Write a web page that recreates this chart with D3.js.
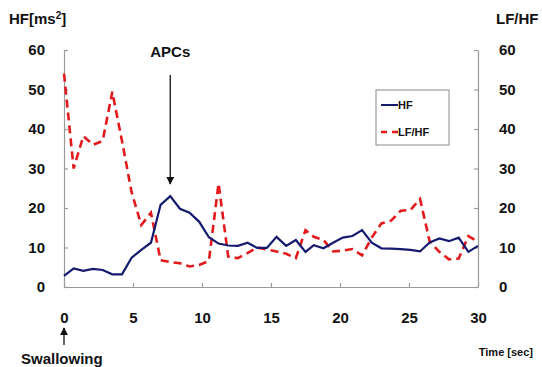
<!DOCTYPE html>
<html>
<head>
<meta charset="utf-8">
<script src="https://cdn.jsdelivr.net/npm/d3@7"></script>
<style>
  body { margin: 0; background: #fff; }
  svg text { font-family: "Liberation Sans", Arial, sans-serif; font-weight: bold; fill: #111; }
</style>
</head>
<body>
<div id="chart"></div>
<script>
// time points (sec)
const times = [0, 0.7, 1.4, 2.1, 2.8, 3.5, 4.2, 4.9, 5.6, 6.3, 7.0, 7.7, 8.4, 9.1, 9.8, 10.5,
  11.2, 11.9, 12.6, 13.3, 14.0, 14.7, 15.4, 16.1, 16.8, 17.5, 18.1, 18.8, 19.5, 20.2, 20.9,
  21.6, 22.3, 23.0, 23.7, 24.4, 25.1, 25.8, 26.5, 27.2, 27.9, 28.6, 29.3, 30.0];
const hfValues = [2.8, 4.7, 4.1, 4.6, 4.3, 3.2, 3.2, 7.4, 9.4, 11.2, 20.8, 23.0, 19.8, 18.8, 16.5, 12.6,
  11.0, 10.5, 10.4, 11.2, 9.9, 9.9, 12.7, 10.4, 11.9, 8.9, 10.6, 9.8, 11.2, 12.5, 12.9,
  14.4, 11.2, 9.8, 9.7, 9.6, 9.4, 9.0, 11.3, 12.3, 11.6, 12.5, 8.9, 10.4];
const lfhfValues = [54, 30, 38.2, 36, 37, 49.4, 37, 24, 15.7, 18.8, 6.8, 6.3, 6.0, 5.2, 5.6, 6.6,
  26.2, 7.7, 7.3, 8.6, 10.0, 9.5, 9.0, 8.4, 7.3, 14.4, 12.7, 11.9, 9.0, 9.2, 9.6,
  8.0, 12.5, 16.1, 16.8, 19.3, 19.5, 22.3, 11.5, 8.9, 7.0, 7.2, 12.9, 11.5];
const xTicks = [0, 5, 10, 15, 20, 25, 30];
const yTicks = [0, 10, 20, 30, 40, 50, 60];
const seriesNames = ['HF', 'LF/HF'];
const apcsTime = 7.7;

const W = 542, H = 367;
const plotL = 64, plotR = 478, plotT = 50, plotB = 287;

const svg = d3.select('#chart').append('svg').attr('width', W).attr('height', H);

const x = d3.scaleLinear().domain([0, 30]).range([plotL, plotR]);
const yL = d3.scaleLinear().domain([0, 60]).range([plotB, plotT]);
const yR = d3.scaleLinear().domain([0, 60]).range([plotB, plotT]);

function styleAxis(g) {
  g.select('.domain').attr('stroke', '#9a9a9a').attr('stroke-width', 1.2);
  g.selectAll('.tick line').attr('stroke', '#9a9a9a').attr('stroke-width', 1.2);
  g.selectAll('.tick text').style('font-size', '15px').attr('fill', '#111');
}

svg.append('g')
  .attr('transform', `translate(0,${plotB})`)
  .call(d3.axisBottom(x).tickValues(xTicks).tickSizeInner(-4).tickSizeOuter(0).tickPadding(25))
  .call(styleAxis);

svg.append('g')
  .attr('transform', `translate(${plotL},0)`)
  .call(d3.axisLeft(yL).tickValues(yTicks).tickSizeInner(-4).tickSizeOuter(0).tickPadding(19))
  .call(styleAxis);

svg.append('g')
  .attr('transform', `translate(${plotR},0)`)
  .call(d3.axisRight(yR).tickValues(yTicks).tickSizeInner(-4).tickSizeOuter(0).tickPadding(21))
  .call(styleAxis);

// lines
const hfLine = d3.line().x((d, i) => x(times[i])).y(d => yL(d));
const lfLine = d3.line().x((d, i) => x(times[i])).y(d => yR(d));

svg.append('path')
  .datum(lfhfValues)
  .attr('d', lfLine)
  .attr('fill', 'none')
  .attr('stroke', '#e3191c')
  .attr('stroke-width', 2.6)
  .attr('stroke-dasharray', '8,5');

svg.append('path')
  .datum(hfValues)
  .attr('d', hfLine)
  .attr('fill', 'none')
  .attr('stroke', '#141a6e')
  .attr('stroke-width', 2.2);

// axis titles
svg.append('text').attr('x', 9).attr('y', 24).style('font-size', '15px')
  .html('HF[ms<tspan dy="-5" style="font-size:10px">2</tspan><tspan dy="5">]</tspan>');
svg.append('text').attr('x', 496).attr('y', 24).style('font-size', '15px').text('LF/HF');
svg.append('text').attr('x', 533).attr('y', 356).attr('text-anchor', 'end')
  .style('font-size', '11px').attr('fill', '#333').text('Time  [sec]');

// swallowing marker
const defs = svg.append('defs');
defs.append('marker').attr('id', 'ah').attr('viewBox', '0 0 10 10').attr('refX', 9).attr('refY', 5)
  .attr('markerWidth', 6).attr('markerHeight', 6).attr('orient', 'auto-start-reverse')
  .append('path').attr('d', 'M0,0L10,5L0,10z').attr('fill', '#111');

svg.append('line').attr('x1', x(0)).attr('x2', x(0)).attr('y1', 345).attr('y2', 328)
  .attr('stroke', '#111').attr('stroke-width', 1.3).attr('marker-end', 'url(#ah)');
svg.append('text').attr('x', 21).attr('y', 364).style('font-size', '15px').text('Swallowing');

// APCs arrow
svg.append('text').attr('x', x(apcsTime)).attr('y', 57).attr('text-anchor', 'middle')
  .style('font-size', '15px').text('APCs');
svg.append('line').attr('x1', x(apcsTime)).attr('x2', x(apcsTime)).attr('y1', 75).attr('y2', 184)
  .attr('stroke', '#111').attr('stroke-width', 1.3).attr('marker-end', 'url(#ah)');

// legend
const lg = svg.append('g').attr('transform', 'translate(376,90)');
lg.append('rect').attr('width', 73).attr('height', 55).attr('fill', '#fff')
  .attr('stroke', '#8a8a8a').attr('stroke-width', 1);
const legendStyles = [
  { color: '#141a6e', dash: null, w: 2 },
  { color: '#e3191c', dash: '6,5', w: 2.4 }
];
seriesNames.forEach((name, i) => {
  const yy = 15 + i * 27;
  lg.append('line').attr('x1', 5).attr('x2', 22).attr('y1', yy).attr('y2', yy)
    .attr('stroke', legendStyles[i].color).attr('stroke-width', legendStyles[i].w)
    .attr('stroke-dasharray', legendStyles[i].dash);
  lg.append('text').attr('x', 22).attr('y', yy + 4).style('font-size', '11px').text(name);
});
</script>
</body>
</html>
